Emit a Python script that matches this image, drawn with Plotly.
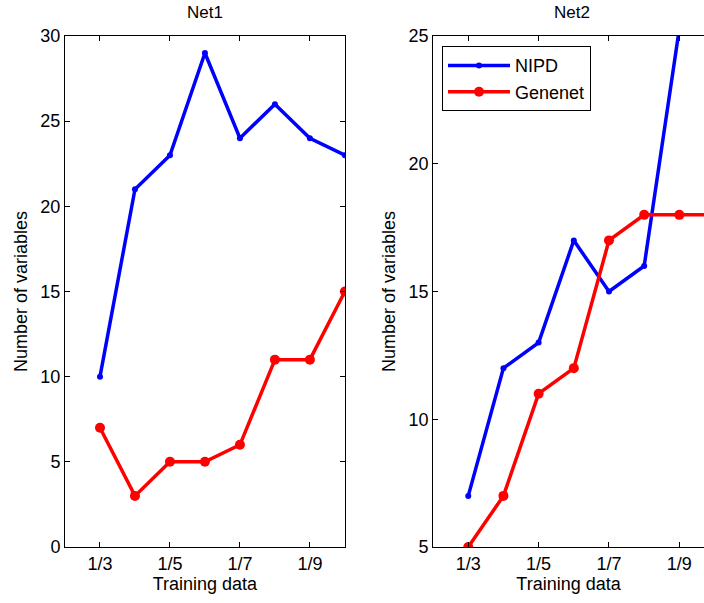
import plotly.graph_objects as go

x_pos = [3, 4, 5, 6, 7, 8, 9, 10]
tick_vals = [3, 5, 7, 9]
tick_text = ["1/3", "1/5", "1/7", "1/9"]

net1_nipd = [10, 21, 23, 29, 24, 26, 24, 23]
net1_genenet = [7, 3, 5, 5, 6, 11, 11, 15]
net2_nipd = [7, 12, 13, 17, 15, 16, 25.3, 27]
net2_genenet = [5, 7, 11, 12, 17, 18, 18, 18]

FONT = "Liberation Sans, Arial, Helvetica, sans-serif"
BLUE = "#0000FF"
RED = "#FF0000"
FS = 18

fig = go.Figure()

fig.add_trace(go.Scatter(x=x_pos, y=net1_nipd, mode="lines+markers", name="NIPD",
                         line=dict(color=BLUE, width=3.5), marker=dict(size=6, color=BLUE),
                         xaxis="x", yaxis="y", showlegend=False))
fig.add_trace(go.Scatter(x=x_pos, y=net1_genenet, mode="lines+markers", name="Genenet",
                         line=dict(color=RED, width=3.5), marker=dict(size=10, color=RED),
                         xaxis="x", yaxis="y", showlegend=False))
fig.add_trace(go.Scatter(x=x_pos, y=net2_nipd, mode="lines+markers", name="NIPD",
                         line=dict(color=BLUE, width=3.5), marker=dict(size=6, color=BLUE),
                         xaxis="x2", yaxis="y2"))
fig.add_trace(go.Scatter(x=x_pos, y=net2_genenet, mode="lines+markers", name="Genenet",
                         line=dict(color=RED, width=3.5), marker=dict(size=10, color=RED),
                         xaxis="x2", yaxis="y2"))

common_x = dict(tickvals=tick_vals, ticktext=tick_text, ticks="inside", ticklen=5,
                tickcolor="black", showline=True, linecolor="black", linewidth=1,
                showgrid=False, zeroline=False, automargin=False,
                tickfont=dict(size=FS, color="black", family=FONT),
                title=dict(text="Training data", font=dict(size=FS, color="black", family=FONT), standoff=3))
common_y = dict(ticks="inside", ticklen=5, tickcolor="black", showline=True,
                linecolor="black", linewidth=1, showgrid=False, zeroline=False, automargin=False,
                tickfont=dict(size=FS, color="black", family=FONT),
                title=dict(text="Number of variables", font=dict(size=FS, color="black", family=FONT), standoff=8))

fig.update_layout(
    width=704, height=603,
    margin=dict(l=65, r=0, t=36, b=56),
    paper_bgcolor="white", plot_bgcolor="white",
    font=dict(family=FONT, color="black"),
    xaxis=dict(domain=[0, 0.438], range=[2, 10], mirror="allticks", anchor="y", **common_x),
    yaxis=dict(domain=[0, 1], range=[0, 30], tickvals=[0, 5, 10, 15, 20, 25, 30],
               mirror="allticks", anchor="x", **common_y),
    xaxis2=dict(domain=[0.576, 1], range=[2, 9.7], mirror="allticks", anchor="y2", **common_x),
    yaxis2=dict(domain=[0, 1], range=[5, 25], tickvals=[5, 10, 15, 20, 25],
                mirror=False, anchor="x2", **common_y),
    legend=dict(x=0.59, y=0.98, xanchor="left", yanchor="top", bgcolor="white",
                bordercolor="black", borderwidth=1, itemwidth=62,
                font=dict(size=FS, color="black", family=FONT)),
    annotations=[
        dict(text="Net1", x=0.219, y=1, xref="paper", yref="paper", xanchor="center",
             yanchor="bottom", yshift=12, showarrow=False, font=dict(size=17, color="black", family=FONT)),
        dict(text="Net2", x=0.793, y=1, xref="paper", yref="paper", xanchor="center",
             yanchor="bottom", yshift=12, showarrow=False, font=dict(size=17, color="black", family=FONT)),
    ],
)

fig.write_html("out.html", config={"displayModeBar": False},
               post_script="document.body.style.margin='0';document.body.style.padding='0';document.body.style.overflow='hidden';")
